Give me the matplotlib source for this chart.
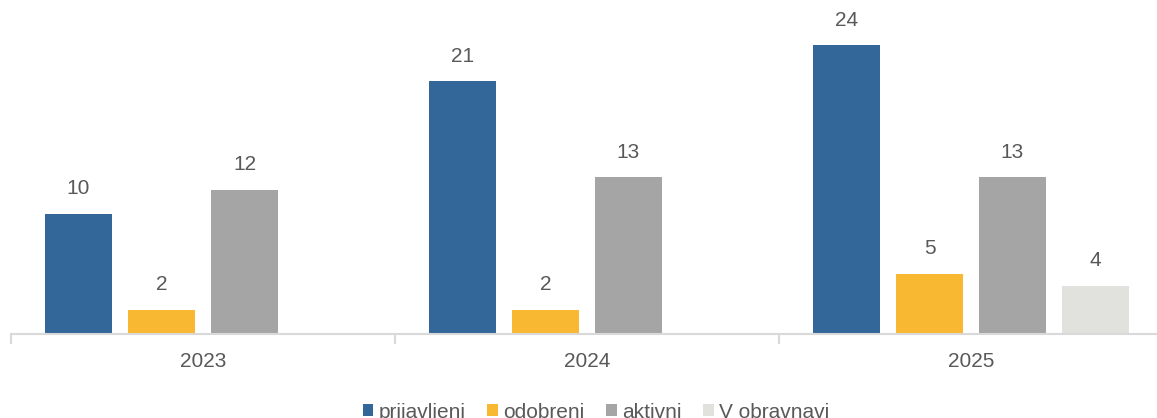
import matplotlib
matplotlib.use("Agg")
import matplotlib.pyplot as plt
import numpy as np
from matplotlib.ticker import FixedLocator

years = ["2023", "2024", "2025"]
series_names = ["prijavljeni", "odobreni", "aktivni", "V obravnavi"]
prijavljeni = [10, 21, 24]
odobreni = [2, 2, 5]
aktivni = [12, 13, 13]
v_obravnavi = [None, None, 4]
colors = ["#336699", "#F9B832", "#A5A5A5", "#E1E2DD"]

series = [prijavljeni, odobreni, aktivni, v_obravnavi]

plt.rcParams['font.family'] = ['Arial', 'Liberation Sans', 'DejaVu Sans']
fig = plt.figure(figsize=(11.57, 4.18), dpi=100)
ax = fig.add_axes([11/1157, (418-334)/418, 1152/1157, 334/418])

x = np.arange(len(years))
step = 83/384
width = 67/384
text_color = "#595959"
fs = 15
for i, (name, vals, c) in enumerate(zip(series_names, series, colors)):
    xs = [xi + (i - 1.5) * step for xi, v in zip(x, vals) if v is not None]
    vs = [v for v in vals if v is not None]
    bars = ax.bar(xs, vs, width=width, color=c, label=name)
    for b, v in zip(bars, vs):
        ax.annotate(str(v), (b.get_x() + b.get_width()/2, v), xytext=(0, 25),
                    textcoords="offset pixels", ha="center", va="center",
                    fontsize=fs, color=text_color)

ax.set_xlim(-0.5, 2.5)
ax.set_ylim(0, 334/12.04)
for s in ["top", "right", "left"]:
    ax.spines[s].set_visible(False)
ax.spines["bottom"].set_color("#D9D9D9")
ax.spines["bottom"].set_linewidth(1.5)
ax.set_yticks([])
ax.xaxis.set_major_locator(FixedLocator([-0.5, 0.5, 1.5, 2.5]))
ax.xaxis.set_minor_locator(FixedLocator(list(x)))
ax.set_xticklabels([], minor=False)
ax.set_xticklabels(years, minor=True, fontsize=fs, color=text_color)
ax.tick_params(axis="x", which="major", length=7, width=1.5, color="#D9D9D9")
ax.tick_params(axis="x", which="minor", length=0, pad=13)

fig.legend(loc="center", bbox_to_anchor=(596/1157, 1 - 412/418), ncol=4, frameon=False,
           fontsize=fs, handlelength=0.5, handleheight=0.5, handletextpad=0.25,
           columnspacing=1.05, labelcolor=text_color)

fig.savefig("out.png", dpi=100)
